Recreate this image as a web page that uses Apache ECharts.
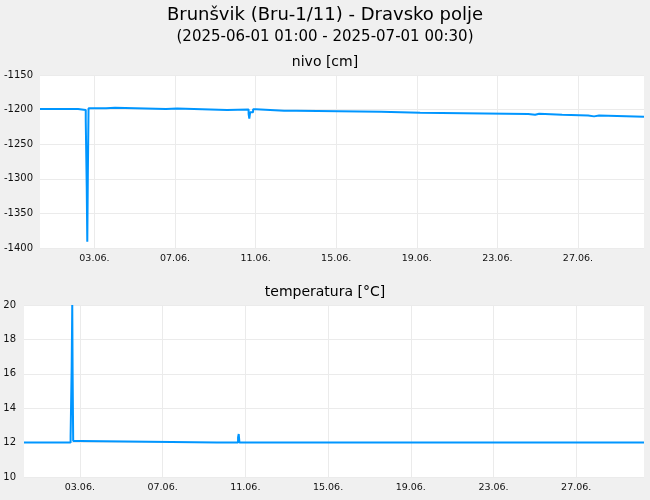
<!DOCTYPE html>
<html>
<head>
<meta charset="utf-8">
<script src="https://cdn.jsdelivr.net/npm/echarts@6/dist/echarts.min.js"></script>
<style>
  html, body { margin: 0; padding: 0; background: #f0f0f0; }
  #chart { width: 650px; height: 500px; }
</style>
</head>
<body>
<div id="chart"></div>
<script>
var startTime = '2025-06-01 01:00';
var endTime = '2025-07-01 00:30';

// nivo [cm]
var levelTimes = [
  '2025-06-01 01:00', '2025-06-02 22:20', '2025-06-03 07:30', '2025-06-03 08:40',
  '2025-06-03 09:20', '2025-06-03 10:00', '2025-06-03 10:50', '2025-06-04 07:40',
  '2025-06-04 08:50', '2025-06-04 18:20', '2025-06-07 07:00', '2025-06-07 08:20',
  '2025-06-07 20:20', '2025-06-10 07:50', '2025-06-10 10:10', '2025-06-11 09:30',
  '2025-06-11 10:20', '2025-06-11 11:20', '2025-06-11 14:50', '2025-06-11 18:20',
  '2025-06-13 03:50', '2025-06-13 06:00', '2025-06-13 09:40', '2025-06-13 12:00',
  '2025-06-13 18:00', '2025-06-17 23:20', '2025-06-19 21:50', '2025-06-25 06:30',
  '2025-06-25 14:50', '2025-06-25 19:40', '2025-06-26 23:00', '2025-06-28 06:00',
  '2025-06-28 13:00', '2025-06-28 19:00', '2025-07-01 00:30'
];
var levelValues = [
  -1199, -1200.5, -1216, -1311,
  -1391, -1293, -1198, -1199,
  -1197.5, -1199, -1200, -1198.5,
  -1200.5, -1201.5, -1200, -1206,
  -1213, -1204, -1199.5, -1201.5,
  -1203, -1201.5, -1203, -1201.5,
  -1203, -1204.5, -1206.4, -1207.4,
  -1206, -1207.4, -1208.4, -1209.8,
  -1208.4, -1210.3, -1210.5
];

// temperatura [°C]
var tempTimes = [
  '2025-06-01 01:00', '2025-06-03 07:05', '2025-06-03 08:20', '2025-06-03 09:00',
  '2025-06-03 09:25', '2025-06-03 10:05', '2025-06-03 18:40', '2025-06-10 08:40',
  '2025-06-10 10:35', '2025-06-11 09:25', '2025-06-11 10:10', '2025-06-11 11:00',
  '2025-06-29 20:55', '2025-06-29 22:35', '2025-06-30 00:20', '2025-06-30 02:00',
  '2025-06-30 03:50', '2025-06-30 05:30', '2025-06-30 21:10', '2025-06-30 22:25',
  '2025-07-01 00:30'
];
var tempValues = [
  12.0, 12.4, 16.4, 20.0,
  16.05, 12.1, 12.0, 12.1,
  12.0, 12.3, 12.5, 12.0,
  11.9, 12.0, 11.9, 12.0,
  11.9, 12.0, 11.9, 12.0,
  12.0
];

var tickTimes = [
  '2025-06-03 17:50', '2025-06-07 17:50', '2025-06-11 17:50', '2025-06-15 17:50',
  '2025-06-19 17:50', '2025-06-23 17:50', '2025-06-27 17:50'
];
var tickLabels = ['03.06.', '07.06.', '11.06.', '15.06.', '19.06.', '23.06.', '27.06.'];

var FONT = 'DejaVu Sans';
var LINE_COLOR = '#0096ff';

function ts(s) {
  return echarts.time.parse(s).getTime();
}

function pairs(times, values) {
  return times.map(function(t, i) {
    return [ts(t), values[i]];
  });
}

var tickValues = tickTimes.map(ts);
var labelByTime = {};
tickValues.forEach(function(v, i) {
  labelByTime[v] = tickLabels[i];
});

// value axis on timestamps, ticks placed by hand
function makeXAxis(gridIndex) {
  return {
    type: 'value',
    gridIndex: gridIndex,
    min: ts(startTime),
    max: ts(endTime),
    axisLine: { show: false },
    axisTick: { show: false, customValues: tickValues },
    splitLine: { show: true, lineStyle: { color: '#ebebeb', width: 1 } },
    axisLabel: {
      customValues: tickValues,
      formatter: function(v) { return labelByTime[v] || ''; },
      color: '#111',
      fontFamily: FONT,
      fontSize: 9.5,
      margin: 6
    }
  };
}

function makeYAxis(gridIndex, min, max, interval, margin) {
  return {
    type: 'value',
    gridIndex: gridIndex,
    min: min,
    max: max,
    interval: interval,
    axisLine: { show: false },
    axisTick: { show: false },
    splitLine: { show: true, lineStyle: { color: '#ebebeb', width: 1 } },
    axisLabel: {
      formatter: function(v) { return String(v); },
      color: '#111',
      fontFamily: FONT,
      fontSize: 10,
      margin: margin
    }
  };
}

function makeTitle(text, top, size) {
  return {
    text: text,
    left: 'center',
    top: top,
    textStyle: { fontFamily: FONT, fontSize: size, fontWeight: 'normal', color: '#000' }
  };
}

var chart = echarts.init(document.getElementById('chart'), null, { renderer: 'canvas' });

chart.setOption({
  backgroundColor: '#f0f0f0',
  animation: false,
  title: [
    makeTitle('Brunšvik (Bru-1/11) - Dravsko polje', 1, 18),
    makeTitle('(2025-06-01 01:00 - 2025-07-01 00:30)', 25, 15),
    makeTitle('nivo [cm]', 50, 14),
    makeTitle('temperatura [°C]', 280, 14)
  ],
  grid: [
    { left: 40, right: 6, top: 75, height: 173, show: true, backgroundColor: '#fff', borderWidth: 0 },
    { left: 24, right: 6, top: 305, height: 172, show: true, backgroundColor: '#fff', borderWidth: 0 }
  ],
  xAxis: [makeXAxis(0), makeXAxis(1)],
  yAxis: [
    makeYAxis(0, -1400, -1150, 50, 7),
    makeYAxis(1, 10, 20, 2, 8)
  ],
  series: [
    {
      name: 'nivo',
      type: 'line',
      xAxisIndex: 0,
      yAxisIndex: 0,
      step: 'end',
      showSymbol: false,
      data: pairs(levelTimes, levelValues),
      lineStyle: { color: LINE_COLOR, width: 2 }
    },
    {
      name: 'temperatura',
      type: 'line',
      xAxisIndex: 1,
      yAxisIndex: 1,
      step: 'end',
      showSymbol: false,
      data: pairs(tempTimes, tempValues),
      lineStyle: { color: LINE_COLOR, width: 2 }
    }
  ]
});
</script>
</body>
</html>
